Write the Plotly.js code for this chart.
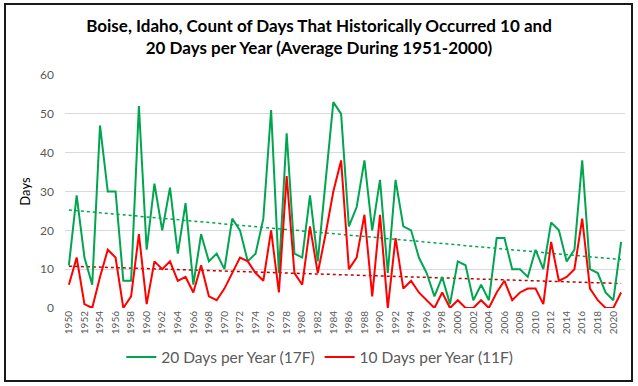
<!DOCTYPE html>
<html>
<head>
<meta charset="utf-8">
<script src="https://cdn.plot.ly/plotly-3.0.1.min.js"></script>
<style>
  html, body { margin: 0; padding: 0; background: #fff; }
  #chart { width: 638px; height: 386px; position: absolute; left: 0; top: 0; }
  #frame { position: absolute; left: 4px; top: 3px; width: 625px; height: 375px;
           border: 2px solid #1a1a1a; pointer-events: none; }
</style>
</head>
<body>
<div id="chart"></div>
<div id="frame"></div>
<script>
// Years (category axis)
const years = [];
for (let y = 1950; y <= 2021; y++) years.push(y);

// Count of days per year at or below 17F (historically 20 days per year)
const days17F = [11, 29, 13, 6, 47, 30, 30, 7, 7, 52,
                 15, 32, 20, 31, 14, 27, 6, 19, 12, 14,
                 10, 23, 20, 12, 14, 23, 51, 9, 45, 14,
                 13, 29, 12, 32, 53, 50, 21, 26, 38, 20,
                 33, 9, 33, 21, 20, 13, 9, 3, 8, 1,
                 12, 11, 2, 6, 2, 18, 18, 10, 10, 8,
                 15, 10, 22, 20, 12, 15, 38, 10, 9, 4,
                 2, 17];

// Count of days per year at or below 11F (historically 10 days per year)
const days11F = [6, 13, 1, 0, 8, 15, 13, 0, 3, 19,
                 1, 12, 10, 12, 7, 8, 4, 11, 3, 2,
                 5, 9, 13, 12, 9, 7, 20, 4, 34, 9,
                 6, 21, 9, 19, 30, 38, 10, 13, 24, 3,
                 24, 0, 18, 5, 7, 4, 2, 0, 4, 0,
                 2, 0, 0, 2, 0, 4, 7, 2, 4, 5,
                 5, 1, 17, 7, 8, 10, 23, 5, 2, 0,
                 0, 4];

const seriesNames = ['20 Days per Year (17F)', '10 Days per Year (11F)'];
const yTicks = [0, 10, 20, 30, 40, 50, 60];

// Linear trend (least squares), as Excel's linear trendline
function trend(xs, ys) {
  const n = xs.length;
  let sx = 0, sy = 0, sxx = 0, sxy = 0;
  for (let i = 0; i < n; i++) { sx += xs[i]; sy += ys[i]; sxx += xs[i]*xs[i]; sxy += xs[i]*ys[i]; }
  const b = (n*sxy - sx*sy) / (n*sxx - sx*sx);
  const a = (sy - b*sx) / n;
  return xs.map(x => a + b*x);
}

const GREEN = '#00a550';
const RED = '#ff0000';
const FONT = 'Lato, Carlito, Calibri, sans-serif';

const traces = [
  { x: years, y: trend(years, days17F), mode: 'lines', showlegend: false, hoverinfo: 'skip',
    line: { color: GREEN, width: 1.5, dash: 'dot' } },
  { x: years, y: trend(years, days11F), mode: 'lines', showlegend: false, hoverinfo: 'skip',
    line: { color: '#c00000', width: 1.5, dash: 'dot' } },
  { x: years, y: days17F, mode: 'lines', name: seriesNames[0],
    line: { color: GREEN, width: 2 } },
  { x: years, y: days11F, mode: 'lines', name: seriesNames[1],
    line: { color: RED, width: 2 } }
];

const layout = {
  width: 638, height: 386,
  paper_bgcolor: '#fff', plot_bgcolor: '#fff',
  margin: { l: 65, r: 13, t: 75, b: 75 },
  font: { family: FONT, color: '#595959' },
  title: {
    text: '<b>Boise, Idaho, Count of Days That Historically Occurred 10 and<br>20 Days per Year (Average During 1951-2000)</b>',
    font: { family: FONT, size: 17, color: '#000' },
    x: 0.5, xref: 'container', xanchor: 'center',
    y: 1 - 32/386, yref: 'container', yanchor: 'middle'
  },
  xaxis: {
    range: [1949.5, 2021.5],
    tickmode: 'linear', tick0: 1950, dtick: 2,
    tickangle: -90,
    tickfont: { family: FONT, size: 10, color: '#595959' },
    showgrid: false, zeroline: false,
    showline: false, ticks: '', fixedrange: true
  },
  yaxis: {
    range: [0, 60],
    tickvals: yTicks,
    tickfont: { family: FONT, size: 12, color: '#595959' },
    gridcolor: '#d9d9d9', gridwidth: 1,
    zeroline: false, showline: false, ticks: '',
    ticklabelstandoff: 10,
    title: { text: 'Days', font: { family: FONT, size: 13, color: '#000' }, standoff: 6 },
    fixedrange: true
  },
  legend: {
    orientation: 'h', x: 0.455, xanchor: 'center', xref: 'paper',
    y: (311 - 361) / 236, yanchor: 'middle',
    font: { family: FONT, size: 15.5, color: '#595959' },
    itemwidth: 30, traceorder: 'normal'
  },
  showlegend: true
};

Plotly.newPlot('chart', traces, layout, { displayModeBar: false, staticPlot: true });
</script>
</body>
</html>
